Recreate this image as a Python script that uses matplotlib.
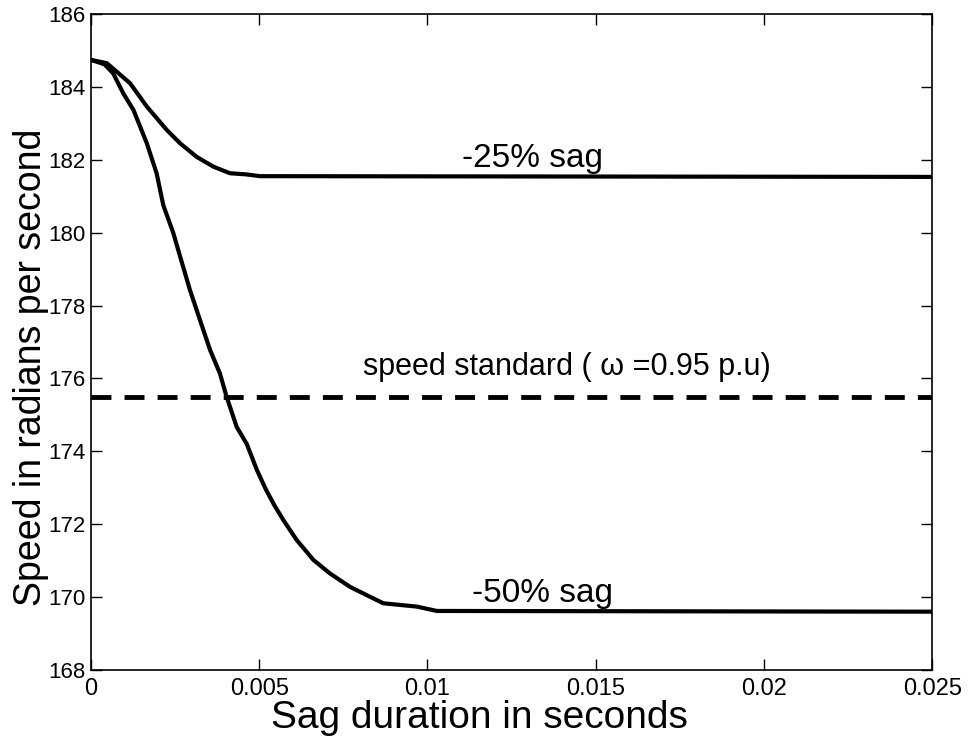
import numpy as np
import matplotlib
matplotlib.use('Agg')
import matplotlib.pyplot as plt

# speed response for -25% sag (seconds, rad/s)
t_25 = [0.0, 0.00047, 0.00076, 0.00116, 0.00166, 0.00225, 0.00265, 0.00314,
        0.00364, 0.00413, 0.00460, 0.00502, 0.025]
w_25 = [184.74, 184.65, 184.42, 184.10, 183.46, 182.82, 182.45, 182.08,
        181.81, 181.63, 181.60, 181.55, 181.53]

# speed response for -50% sag
t_50 = [0.0, 0.00040, 0.00066, 0.00096, 0.00126, 0.00166, 0.00195, 0.00215,
        0.00245, 0.00265, 0.00294, 0.00324, 0.00354, 0.00383, 0.00403,
        0.00433, 0.00463, 0.00493, 0.00520, 0.00545, 0.00572, 0.00611,
        0.00661, 0.00710, 0.00770, 0.00829, 0.00869, 0.00968, 0.01028, 0.025]
w_50 = [184.74, 184.62, 184.37, 183.82, 183.37, 182.45, 181.63, 180.75,
        179.98, 179.34, 178.43, 177.60, 176.78, 176.14, 175.50,
        174.67, 174.20, 173.49, 172.95, 172.52, 172.11, 171.57,
        171.02, 170.65, 170.28, 170.01, 169.83, 169.74, 169.62, 169.60]

# speed standard (0.95 p.u)
w_std = 175.5

xticks = [0, 0.005, 0.01, 0.015, 0.02, 0.025]
xticklabels = ['0', '0.005', '0.01', '0.015', '0.02', '0.025']
yticks = np.arange(168, 187, 2)

plt.rcParams['font.family'] = ['Liberation Sans', 'DejaVu Sans']

fig = plt.figure(figsize=(9.68, 7.40), dpi=100)
ax = fig.add_axes([0.094, 0.0946, 0.869, 0.8865])

ax.plot(t_25, w_25, color='black', lw=3)
ax.plot(t_50, w_50, color='black', lw=3)
ax.axhline(w_std, color='black', lw=3.5, linestyle=(0, (4.1, 2.7)))

ax.text(0.01103, 181.8, '-25% sag', fontsize=24, ha='left', va='baseline')
ax.text(0.01133, 169.86, '-50% sag', fontsize=24, ha='left', va='baseline')
ax.text(0.00809, 176.09, 'speed standard ( \u03c9 =0.95 p.u)', fontsize=22,
        ha='left', va='baseline')

ax.set_xlim(0, 0.025)
ax.set_ylim(168, 186)
ax.set_xticks(xticks)
ax.set_xticklabels(xticklabels, fontsize=17)
ax.set_yticks(yticks)
ax.set_yticklabels([str(v) for v in yticks], fontsize=16)
ax.tick_params(direction='in', top=True, right=True, length=8, width=1)
ax.tick_params(axis='x', pad=6)
ax.tick_params(axis='y', pad=4)
for s in ax.spines.values():
    s.set_linewidth(1.2)

ax.set_xlabel('Sag duration in seconds', fontsize=28)
ax.xaxis.set_label_coords(0.462, -0.0456)
ax.set_ylabel('Speed in radians per second', fontsize=27)
ax.yaxis.set_label_coords(-0.05, 0.462)

fig.savefig('out.png', dpi=100)
